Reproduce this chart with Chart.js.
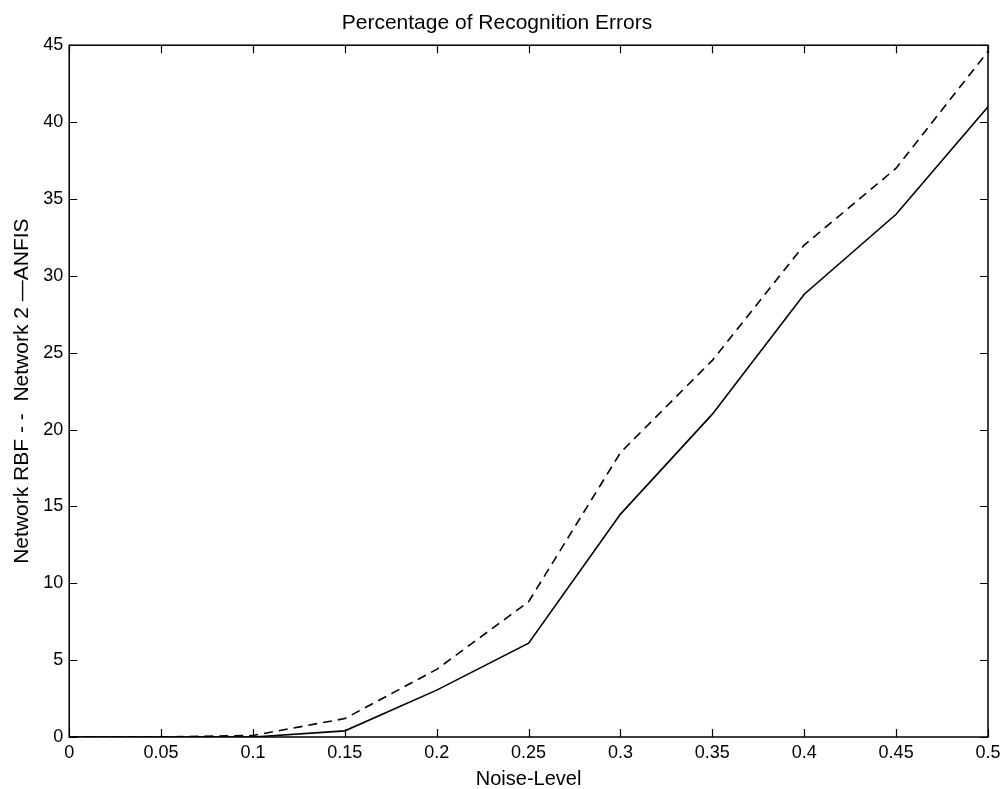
<!DOCTYPE html>
<html>
<head>
<meta charset="utf-8">
<script src="https://cdn.jsdelivr.net/npm/chart.js@4/dist/chart.umd.min.js"></script>
<style>
  html, body { margin: 0; padding: 0; background: #fff; }
  #wrap { width: 1005px; height: 789px; }
</style>
</head>
<body>
<div id="wrap"><canvas id="myChart"></canvas></div>
<script>
const noiseLevels = [0, 0.05, 0.1, 0.15, 0.2, 0.25, 0.3, 0.35, 0.4, 0.45, 0.5];
const anfisErrors = [0, 0, 0, 0.4, 3.05, 6.1, 14.5, 21.0, 28.8, 34.0, 41.0];
const rbfErrors = [0, 0, 0.1, 1.2, 4.4, 8.8, 18.5, 24.5, 32.0, 37.0, 44.6];
const yTicks = [0, 5, 10, 15, 20, 25, 30, 35, 40, 45];

const FONT = 'Liberation Sans, Arial, sans-serif';

// matlab style box with inward ticks on all four sides
const boxTicks = {
    id: 'boxTicks',
    afterDraw(chart) {
        const { ctx, chartArea: a, scales } = chart;
        const len = 8;
        ctx.save();
        ctx.strokeStyle = '#000';
        ctx.lineWidth = 1.5;
        ctx.strokeRect(a.left, a.top, a.right - a.left, a.bottom - a.top);
        ctx.lineWidth = 1.2;
        ctx.beginPath();
        scales.x.ticks.forEach(t => {
            const px = Math.round(scales.x.getPixelForValue(t.value)) + 0.5;
            ctx.moveTo(px, a.bottom); ctx.lineTo(px, a.bottom - len);
            ctx.moveTo(px, a.top); ctx.lineTo(px, a.top + len);
        });
        scales.y.ticks.forEach(t => {
            const py = Math.round(scales.y.getPixelForValue(t.value)) + 0.5;
            ctx.moveTo(a.left, py); ctx.lineTo(a.left + len, py);
            ctx.moveTo(a.right, py); ctx.lineTo(a.right - len, py);
        });
        ctx.stroke();
        ctx.restore();
    }
};

const toPoints = ys => noiseLevels.map((x, i) => ({ x: x, y: ys[i] }));

new Chart(document.getElementById('myChart').getContext('2d'), {
    type: 'line',
    data: {
        datasets: [{
            label: 'ANFIS',
            data: toPoints(anfisErrors),
            borderColor: '#000',
            borderWidth: 1.6,
            pointRadius: 0,
            tension: 0
        }, {
            label: 'Network RBF',
            data: toPoints(rbfErrors),
            borderColor: '#000',
            borderWidth: 1.6,
            borderDash: [9, 6],
            pointRadius: 0,
            tension: 0
        }]
    },
    options: {
        responsive: true,
        maintainAspectRatio: false,
        animation: false,
        layout: {
            padding: { left: 6, right: 17, top: 0, bottom: 0 }
        },
        plugins: {
            legend: { display: false },
            tooltip: { enabled: false },
            title: {
                display: true,
                text: 'Percentage of Recognition Errors',
                color: '#000',
                font: { family: FONT, size: 21, weight: 'normal' },
                padding: { top: 11, bottom: 9 }
            }
        },
        scales: {
            x: {
                type: 'linear',
                min: 0,
                max: 0.5,
                grid: { display: false, drawTicks: false },
                border: { display: false },
                afterFit: scale => {
                    scale.paddingRight = 0;
                },
                ticks: {
                    stepSize: 0.05,
                    color: '#000',
                    padding: 7,
                    maxRotation: 0,
                    font: { family: FONT, size: 18, lineHeight: 1 },
                    callback: v => String(Number(v.toFixed(2)))
                },
                title: {
                    display: true,
                    text: 'Noise-Level',
                    color: '#000',
                    padding: { top: 0, bottom: 0 },
                    font: { family: FONT, size: 20, lineHeight: 1 }
                }
            },
            y: {
                min: 0,
                max: 45,
                grid: { display: false, drawTicks: false },
                border: { display: false },
                afterBuildTicks: scale => {
                    scale.ticks = yTicks.map(v => ({ value: v }));
                },
                ticks: {
                    color: '#000',
                    padding: 6,
                    font: { family: FONT, size: 18 }
                },
                title: {
                    display: true,
                    text: 'Network RBF - -  Network 2 \u2014ANFIS',
                    color: '#000',
                    padding: { top: 4, bottom: 2 },
                    font: { family: FONT, size: 21 }
                }
            }
        }
    },
    plugins: [boxTicks]
});
</script>
</body>
</html>
